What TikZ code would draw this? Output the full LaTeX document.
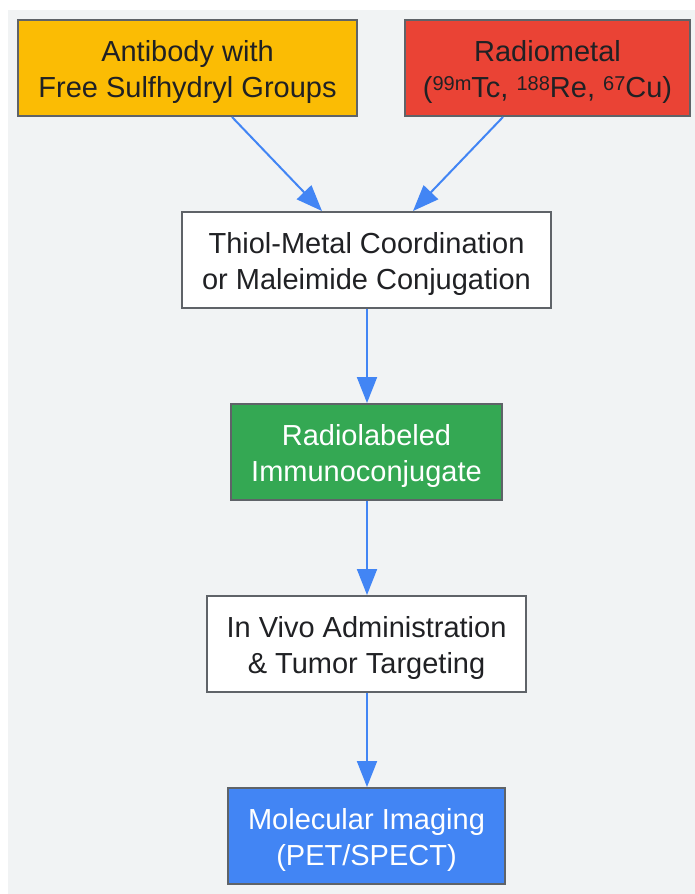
\documentclass[tikz,border=0pt]{standalone}
\usepackage{fontspec}
\setmainfont{Liberation Sans}
\usetikzlibrary{arrows.meta}
\definecolor{bg}{HTML}{F1F3F4}
\definecolor{bord}{HTML}{5F6368}
\definecolor{gyellow}{HTML}{FBBC04}
\definecolor{gred}{HTML}{EA4335}
\definecolor{ggreen}{HTML}{34A853}
\definecolor{gblue}{HTML}{4285F4}
\definecolor{txt}{HTML}{202124}
\newcommand\twol[2]{\begin{tabular}{@{}c@{}}\rule{0pt}{33pt}#1\\#2\end{tabular}}
\newcommand\sups[1]{\raisebox{7pt}{\fontsize{20}{20}\selectfont #1}}
\begin{document}
\begin{tikzpicture}[x=1pt,y=-1pt,
  box/.style={draw=bord,line width=2pt,inner sep=0pt,text=txt,
    font=\fontsize{29}{36}\selectfont},
  conn/.style={draw=gblue,line width=2pt,-{Triangle[length=26pt,width=20pt]}}]
\useasboundingbox (0,0) rectangle (695,894);
\fill[bg] (8,10) rectangle (695,894);
\node[box,fill=gyellow,minimum width=339pt,minimum height=96pt] (ab) at (187.5,68) {\twol{Antibody with}{Free Sulfhydryl Groups}};
\node[box,fill=gred,minimum width=285pt,minimum height=96pt] (rm) at (547.5,68) {\twol{Radiometal}{(\sups{99m}Tc, \sups{188}Re, \sups{67}Cu)}};
\node[box,fill=white,minimum width=369pt,minimum height=96pt] (th) at (366.5,260) {\twol{Thiol-Metal Coordination}{or Maleimide Conjugation}};
\node[box,fill=ggreen,text=white,minimum width=271pt,minimum height=96pt] (rl) at (366.5,452) {\twol{Radiolabeled}{Immunoconjugate}};
\node[box,fill=white,minimum width=319pt,minimum height=96pt] (iv) at (366.5,644) {\twol{In Vivo Administration}{\& Tumor Targeting}};
\node[box,fill=gblue,text=white,minimum width=277pt,minimum height=96pt] (mi) at (366.5,836) {\twol{Molecular Imaging}{(PET/SPECT)}};
\draw[conn] (ab.south -| 232,0) -- (th.north -| 322,0);
\draw[conn] (rm.south -| 503,0) -- (th.north -| 413,0);
\draw[conn] (th.south -| 367,0) -- (rl.north -| 367,0);
\draw[conn] (rl.south -| 367,0) -- (iv.north -| 367,0);
\draw[conn] (iv.south -| 367,0) -- (mi.north -| 367,0);
\end{tikzpicture}
\end{document}
